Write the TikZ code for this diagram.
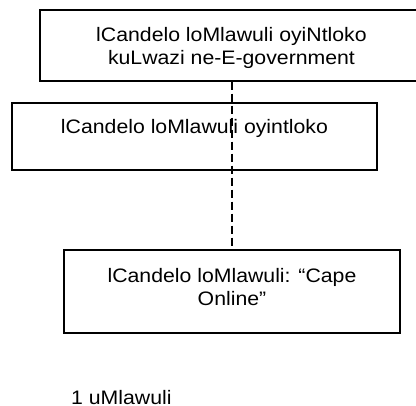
\documentclass[tikz,border=0pt]{standalone}
\usepackage{fontspec}
\setmainfont{Liberation Sans}[FakeStretch=1.09]
\begin{document}
\begin{tikzpicture}[x=1pt,y=-1pt,
  box/.style={draw, line width=1.2pt, inner sep=0pt, align=center,
    font=\fontsize{19.5}{23}\selectfont},
  link/.style={line width=1.2pt, dash pattern=on 8pt off 4pt}]
  % Kanvasi
  \useasboundingbox (0,0) rectangle (416,406);
  \clip (0,0) rectangle (416,406);
  % Iibhokisi
  \node[box, minimum width=383pt, minimum height=71pt, text depth=0pt]
    (top) at (231.5,45.5) {lCandelo loMlawuli oyiNtloko\\kuLwazi ne-E-government};
  \node[box, minimum width=365pt, minimum height=67pt, text depth=20.5pt]
    (mid) at (194.5,136.5) {lCandelo loMlawuli oyintloko};
  \node[box, minimum width=336pt, minimum height=83pt, text depth=10pt]
    (cape) at (232,291.5) {lCandelo loMlawuli: “Cape\\Online”};
  % Umgca
  \draw[link] (top.south -| cape.north) -- (cape.north);
  % Umbhalo
  \node[anchor=base west, inner sep=0pt, font=\fontsize{19.5}{23}\selectfont]
    (count) at (71,404.5) {1 uMlawuli};
\end{tikzpicture}
\end{document}
